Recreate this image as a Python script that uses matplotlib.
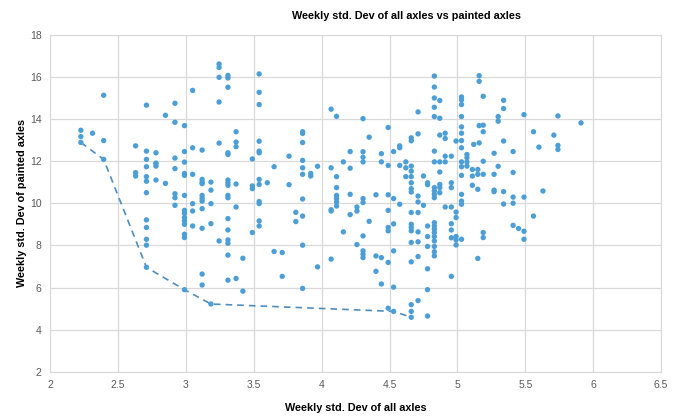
import matplotlib
matplotlib.use("Agg")
import matplotlib.pyplot as plt

plt.rcParams['font.family'] = ['Liberation Sans', 'DejaVu Sans']

# weekly std. dev of all axles (x) vs painted axles (y)
x_all = [
    2.395, 2.71, 2.92, 3.05, 2.85, 2.92, 2.99, 2.227, 2.227, 2.313, 2.227, 2.395, 2.63, 2.71, 2.78, 2.99, 3.05, 2.395, 2.71, 2.78, 2.92, 2.99,
    3.245, 3.245, 3.245, 3.31, 3.31, 3.31, 3.245, 3.54, 3.54, 3.54, 4.07, 4.11, 3.12, 3.245, 3.37, 3.37, 3.37, 3.31, 3.31, 3.49, 3.54, 3.54, 3.54, 3.76, 3.86, 3.86, 3.86, 3.86,
    4.83, 4.83, 4.83, 4.87, 4.83, 4.83, 4.87, 5.03, 5.03, 5.03, 5.03, 5.16, 5.16, 4.71, 4.305, 4.49, 4.35, 4.21, 4.16, 4.305, 4.305, 4.305, 4.44, 4.44, 4.53, 4.575, 4.575,
    4.66, 4.66, 4.71, 4.87, 4.91, 4.91, 4.99, 5.03, 5.03, 5.03, 5.03, 4.83, 4.91, 4.955, 4.83, 4.87, 4.91, 5.07, 5.07, 5.07, 5.03, 4.62, 5.12, 5.16, 5.16,
    5.19, 5.34, 5.34, 5.30, 5.30, 5.49, 5.74, 5.91, 5.19, 5.19, 5.56, 5.71, 5.34, 5.60, 5.74, 5.74, 5.27, 5.41, 5.19,
    2.63, 2.63, 2.71, 2.71, 2.71, 2.78, 2.78, 2.78, 2.85, 2.71, 2.92, 2.92, 2.92, 2.92, 2.99, 2.99, 2.99, 2.99, 2.99, 2.99, 2.99, 2.99, 2.99, 2.99,
    3.05, 3.05, 3.05, 3.05, 2.71, 2.71, 2.71, 2.71,
    3.12, 3.12, 3.12, 3.185, 3.185, 3.12, 3.12, 3.12, 3.12, 3.185, 3.12, 3.185, 3.31, 3.31, 3.31, 3.37, 3.31, 3.31, 3.37, 3.31, 3.31, 3.31, 3.31, 3.245,
    3.49, 3.49, 3.49, 3.54, 3.54, 3.60, 3.54, 3.54, 3.54, 3.54, 3.65, 3.76, 3.86, 3.86, 3.92, 3.92, 3.97, 3.86, 3.81, 3.81, 3.86, 3.86, 3.65, 3.71,
    3.31, 3.42, 4.07, 4.11, 4.11, 4.11, 4.11, 4.11, 4.11, 4.07, 4.07,
    4.21, 4.49, 4.575, 4.62, 4.66, 4.66, 4.66, 4.66, 4.66, 4.66, 4.62, 4.75, 4.78, 4.78, 4.87, 4.83, 4.83, 4.83, 4.83, 4.87, 4.87, 4.87, 4.955, 4.955,
    5.03, 5.03, 5.07, 5.11, 5.15, 5.11, 5.15, 5.11, 5.15, 5.03, 5.03, 5.03, 4.21, 4.40, 4.49, 4.305, 4.305, 4.26, 4.26, 4.53, 4.575, 4.71, 4.71, 4.75,
    4.49, 4.66, 4.71, 4.91, 4.955, 4.99, 4.99, 4.21, 4.35, 4.53, 4.49, 4.49, 4.66, 4.66, 4.66, 4.71, 4.78, 4.83, 4.83, 4.83, 4.83, 4.83, 4.83,
    4.955, 4.955, 4.16, 4.305, 4.78, 4.66, 4.71, 4.955, 4.99, 4.99, 4.99, 5.03, 4.26, 4.78, 4.83, 4.83, 4.83, 4.53, 4.305, 4.305, 4.305, 4.40, 4.44, 4.71,
    5.19, 5.27, 5.30, 5.41, 5.27, 5.27, 5.34, 5.41, 5.49, 5.63, 5.34, 5.41, 5.56, 5.41, 5.45, 5.49, 5.49, 5.19, 5.19,
    3.12, 3.12, 3.31, 3.37, 3.42, 3.185, 3.71, 3.86, 3.97, 4.07, 4.49, 4.40, 4.44, 4.53, 4.66, 4.78, 4.955, 4.78, 4.71, 4.66, 4.66, 4.49, 4.53, 4.66,
    4.78, 5.15, 2.71, 2.99,
]
y_painted = [
    15.12, 14.65, 14.74, 15.35, 14.17, 13.84, 13.68, 13.46, 13.16, 13.32, 12.88, 12.97, 12.72, 12.47, 12.39, 12.45, 12.63, 12.08, 12.08, 11.9, 12.14, 11.95,
    16.6, 16.44, 15.97, 16.06, 15.94, 15.5, 14.8, 16.13, 15.26, 14.68, 14.46, 14.12, 12.52, 12.85, 13.39, 12.9, 12.68, 12.39, 12.31, 12.1, 12.94, 12.47, 12.39, 12.23, 13.39, 13.31, 12.88, 12.03,
    16.03, 15.51, 14.99, 14.87, 14.55, 14.11, 14.03, 15.04, 14.9, 14.68, 14.11, 16.05, 15.78, 14.33, 14.01, 13.59, 13.13, 12.45, 11.96, 12.44, 12.18, 11.96, 12.35, 11.96, 12.45, 12.63, 12.72,
    13.1, 12.96, 13.29, 13.23, 13.32, 13.07, 12.95, 13.62, 13.32, 12.97, 12.63, 12.47, 12.23, 12.23, 11.96, 11.96, 11.96, 12.31, 12.16, 11.96, 11.96, 11.96, 12.79, 12.86, 13.68,
    15.07, 14.88, 14.49, 14.11, 13.89, 14.2, 14.14, 13.81, 13.7, 13.39, 13.39, 13.23, 12.95, 12.66, 12.74, 12.55, 12.37, 12.45, 11.99,
    11.45, 11.29, 11.73, 11.26, 11.04, 11.87, 11.76, 11.1, 10.94, 10.5, 11.64, 10.45, 10.26, 9.9, 11.41, 11.32, 10.37, 9.66, 9.52, 9.32, 9.16, 9.0, 8.53, 8.37,
    11.37, 9.98, 9.63, 8.92, 9.21, 8.85, 8.29, 8.01,
    11.13, 11.0, 10.93, 11.0, 10.62, 10.37, 10.23, 10.1, 9.74, 9.98, 8.81, 9.03, 11.1, 10.97, 10.85, 10.91, 10.37, 10.26, 9.82, 9.27, 8.73, 8.26, 8.1, 8.21,
    10.82, 10.69, 8.61, 11.13, 10.89, 10.97, 10.08, 9.98, 9.16, 8.92, 11.73, 10.88, 11.68, 11.37, 11.41, 11.29, 11.75, 10.2, 9.57, 9.13, 9.39, 8.01, 7.71, 7.66,
    7.54, 7.39, 11.68, 11.26, 10.74, 10.37, 10.22, 10.06, 9.87, 9.69, 9.63,
    11.66, 11.79, 11.79, 11.68, 11.76, 11.52, 11.26, 10.97, 10.69, 10.53, 11.26, 11.29, 10.97, 10.88, 11.48, 10.74, 10.58, 10.42, 10.26, 10.89, 10.74, 10.5, 10.97, 10.74,
    11.73, 11.32, 11.76, 11.6, 11.6, 11.29, 11.37, 10.85, 10.66, 10.42, 10.1, 9.95, 10.42, 10.4, 10.4, 10.22, 10.03, 9.82, 9.63, 10.22, 9.95, 10.34, 10.06, 9.9,
    9.66, 9.56, 9.56, 9.82, 9.82, 9.58, 9.32, 9.46, 9.14, 9.02, 8.85, 8.69, 9.0, 8.85, 8.69, 8.64, 8.92, 9.08, 8.92, 8.77, 8.61, 8.42, 8.21,
    9.03, 8.73, 8.64, 8.45, 8.42, 8.14, 8.17, 8.36, 8.42, 8.26, 8.02, 8.29, 8.04, 7.95, 7.95, 7.70, 7.5, 7.74, 7.74, 7.58, 7.42, 7.5, 7.42, 7.47,
    11.37, 11.37, 11.75, 11.46, 10.62, 10.55, 10.55, 10.29, 10.29, 10.58, 9.96, 10.0, 9.39, 8.95, 8.80, 8.67, 8.29, 8.61, 8.37,
    6.64, 6.12, 6.35, 6.43, 5.83, 5.22, 6.53, 5.96, 6.98, 7.35, 7.19, 6.77, 6.17, 6.02, 7.22, 6.89, 6.53, 5.90, 5.38, 5.19, 4.87, 5.02, 4.87, 4.59,
    4.65, 7.38, 6.96, 5.9,
]

# lower frontier (dashed)
front_x = [2.227, 2.395, 2.71, 2.99, 3.185, 4.53, 4.66]
front_y = [12.88, 12.08, 6.96, 5.9, 5.22, 4.87, 4.59]

x_ticks = [2, 2.5, 3, 3.5, 4, 4.5, 5, 5.5, 6, 6.5]
y_ticks = [2, 4, 6, 8, 10, 12, 14, 16, 18]

fig = plt.figure(figsize=(6.76, 4.16), dpi=100)
ax = fig.add_axes([0.074, 0.106, 0.904, 0.811])

ax.plot(front_x, front_y, color='#4E8DC0', lw=1.2, dashes=(4, 3), zorder=2)
ax.scatter(x_all, y_painted, s=15, color='#4C9FD6', edgecolors='none', zorder=3)

ax.set_xlim(2, 6.5)
ax.set_ylim(2, 18)
ax.set_xticks(x_ticks)
ax.set_xticklabels([f'{t:g}' for t in x_ticks])
ax.set_yticks(y_ticks)
ax.grid(True, color='#d9d9d9', lw=0.9)
ax.set_axisbelow(True)
for s in ax.spines.values():
    s.set_color('#d9d9d9')
ax.tick_params(length=0, labelsize=7.5, colors='#595959', pad=6)

fig.text(0.602, 0.962, 'Weekly std. Dev of all axles vs painted axles', ha='center', va='center',
         fontsize=7.8, fontweight='bold')
ax.set_xlabel('Weekly std. Dev of all axles', fontsize=7.8, fontweight='bold', labelpad=9)
ax.set_ylabel('Weekly std. Dev of painted axles', fontsize=7.8, fontweight='bold', labelpad=2)

fig.savefig('out.png', dpi=100)
